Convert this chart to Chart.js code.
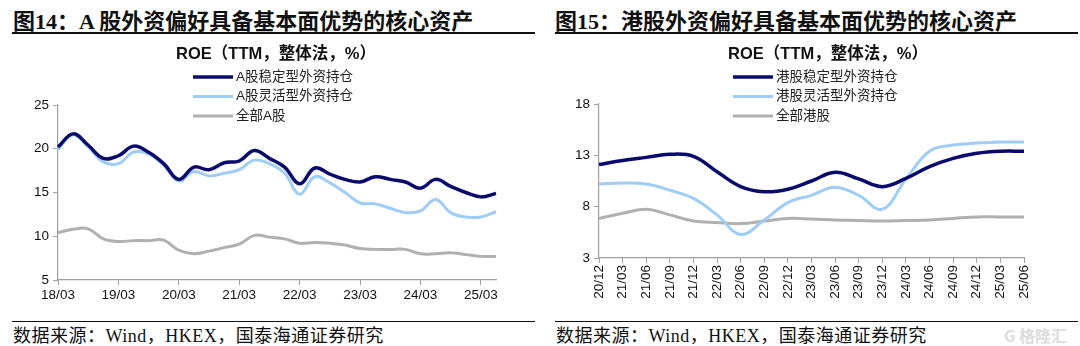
<!DOCTYPE html>
<html>
<head>
<meta charset="utf-8">
<script src="https://cdn.jsdelivr.net/npm/chart.js@4.4.1/dist/chart.umd.min.js"></script>
<style>
  body { margin: 0; width: 1080px; height: 346px; background: #fff; position: relative; overflow: hidden; }
  .fig-title { position: absolute; top: 3px; font: bold 22px "Liberation Serif", "Noto Sans CJK SC", serif; color: #111; white-space: nowrap; }
  .rule { position: absolute; height: 2px; background: #111; }
  .src-rule { position: absolute; height: 1px; background: #111; }
  .source { position: absolute; top: 321px; font: 18px "Liberation Serif", "Noto Sans CJK SC", serif; letter-spacing: 0.5px; color: #111; white-space: nowrap; }
  .wm { position: absolute; left: 1004px; top: 323px; font: bold 16px "Noto Sans CJK SC", sans-serif; color: #dcdcdc; white-space: nowrap; }
  canvas { position: absolute; top: 36px; }
</style>
</head>
<body>
<div class="fig-title" style="left:13px">图14：A 股外资偏好具备基本面优势的核心资产</div>
<div class="rule" style="left:12px; width:523px; top:32px"></div>
<div class="fig-title" style="left:555px">图15：港股外资偏好具备基本面优势的核心资产</div>
<div class="rule" style="left:555px; width:523px; top:32px"></div>

<canvas id="chartA" width="540" height="284" style="left:0"></canvas>
<canvas id="chartHK" width="540" height="284" style="left:540px"></canvas>

<div class="src-rule" style="left:12px; width:523px; top:321px"></div>
<div class="source" style="left:13px">数据来源：Wind，HKEX，国泰海通证券研究</div>
<div class="src-rule" style="left:555px; width:523px; top:321px"></div>
<div class="source" style="left:556px">数据来源：Wind，HKEX，国泰海通证券研究</div>
<div class="wm">G 格隆汇</div>

<script>
// A股: 季度数据 18/03 - 25/06
const labelsA = ['18/03','18/06','18/09','18/12','19/03','19/06','19/09','19/12',
  '20/03','20/06','20/09','20/12','21/03','21/06','21/09','21/12',
  '22/03','22/06','22/09','22/12','23/03','23/06','23/09','23/12',
  '24/03','24/06','24/09','24/12','25/03','25/06'];
const stableA = [20.2, 21.7, 20.4, 18.9, 19.2, 20.3, 19.6, 18.3, 16.5, 17.9, 17.6, 18.4, 18.6, 19.8, 18.9,
  17.9, 16.0, 17.8, 17.1, 16.5, 16.2, 16.8, 16.5, 16.2, 15.5, 16.5, 15.7, 15.0, 14.5, 14.9];
const flexA = [19.9, 21.6, 20.2, 18.5, 18.3, 19.6, 19.4, 18.1, 16.3, 17.4, 16.9, 17.2, 17.6, 18.7, 18.3,
  17.2, 14.8, 16.8, 16.1, 15.0, 13.8, 13.7, 13.2, 12.7, 12.9, 14.2, 12.7, 12.2, 12.2, 12.8];
const allA = [10.4, 10.8, 10.85, 9.7, 9.4, 9.5, 9.5, 9.55, 8.4, 8.0, 8.3, 8.7, 9.1, 10.1, 9.9,
  9.7, 9.2, 9.3, 9.2, 9.0, 8.6, 8.5, 8.5, 8.5, 8.0, 8.0, 8.1, 7.9, 7.7, 7.7];
const namesA = ['A股稳定型外资持仓', 'A股灵活型外资持仓', '全部A股'];
const ticksA = [5, 25, 5]; // min, max, step

// 港股: 季度数据 20/12 - 25/06
const labelsHK = ['20/12','21/03','21/06','21/09','21/12','22/03','22/06','22/09','22/12',
  '23/03','23/06','23/09','23/12','24/03','24/06','24/09','24/12','25/03','25/06'];
const stableHK = [12.1, 12.5, 12.8, 13.1, 12.9, 11.4, 9.95, 9.45, 9.7, 10.5, 11.35, 10.7, 9.95, 10.75, 11.9, 12.7, 13.2, 13.4, 13.4];
const flexHK = [10.2, 10.3, 10.2, 9.6, 8.8, 7.2, 5.3, 6.7, 8.4, 9.1, 9.9, 9.1, 7.75, 10.7, 13.4, 14.0, 14.2, 14.3, 14.3];
const allHK = [6.85, 7.35, 7.75, 7.2, 6.6, 6.45, 6.35, 6.6, 6.85, 6.8, 6.7, 6.65, 6.6, 6.65, 6.7, 6.85, 7.0, 7.0, 7.0];
const namesHK = ['港股稳定型外资持仓', '港股灵活型外资持仓', '全部港股'];
const ticksHK = [3, 18, 5];

const chartTitle = 'ROE（TTM，整体法，%）';
const colors = ['#0a0a6e', '#9fcdf7', '#b0b0b0'];
const widths = [3.5, 3, 3];

// 标题和竖排图例直接画在画布上
const header = {
  id: 'header',
  afterDraw(chart, args, opts) {
    const ctx = chart.ctx;
    ctx.save();
    ctx.fillStyle = '#111';
    ctx.font = 'bold 16.5px "Liberation Sans", "Noto Sans CJK SC", sans-serif';
    ctx.textAlign = 'center';
    ctx.textBaseline = 'middle';
    ctx.fillText(opts.text, opts.titleX, 18);
    ctx.textAlign = 'left';
    ctx.font = '13.5px "Liberation Sans", "Noto Sans CJK SC", sans-serif';
    chart.data.datasets.forEach((ds, i) => {
      const y = 41 + i * 19.5;
      ctx.strokeStyle = ds.borderColor;
      ctx.lineWidth = ds.borderWidth;
      ctx.beginPath();
      ctx.moveTo(opts.legendX, y);
      ctx.lineTo(opts.legendX + 40, y);
      ctx.stroke();
      ctx.fillStyle = '#222';
      ctx.fillText(ds.label, opts.legendX + 43, y);
    });
    ctx.restore();
  }
};

function makeChart(id, labels, series, names, yt, cfg) {
  return new Chart(document.getElementById(id), {
    type: 'line',
    data: {
      labels: labels,
      datasets: series.map((d, i) => ({
        label: names[i],
        data: d,
        borderColor: colors[i],
        borderWidth: widths[i],
        pointRadius: 0,
        tension: 0.4,
        fill: false,
        order: i === 2 ? 3 : (i === 1 ? 2 : 1)
      }))
    },
    plugins: [header],
    options: {
      responsive: false,
      animation: false,
      devicePixelRatio: 1,
      layout: { padding: cfg.padding },
      plugins: {
        legend: { display: false },
        title: { display: false },
        tooltip: { enabled: false },
        header: { text: chartTitle, titleX: cfg.titleX, legendX: 193 }
      },
      scales: {
        x: {
          offset: false,
          afterFit: s => { s.height = cfg.xHeight; },
          grid: { drawOnChartArea: false, drawTicks: true, tickLength: 5, color: '#a0a0a0' },
          border: { color: '#a0a0a0', width: 1.2 },
          ticks: {
            autoSkip: false,
            maxRotation: cfg.rotate, minRotation: cfg.rotate,
            padding: 2,
            color: '#111',
            font: { family: '"Liberation Sans", Arial, sans-serif', size: 13.5 },
            callback: cfg.xTick
          }
        },
        y: {
          min: yt[0], max: yt[1],
          afterFit: s => { s.width = 45; },
          grid: { drawOnChartArea: false, drawTicks: true, tickLength: 5, color: '#a0a0a0' },
          border: { color: '#a0a0a0', width: 1.2 },
          ticks: {
            stepSize: yt[2],
            padding: 4,
            color: '#111',
            font: { family: '"Liberation Sans", Arial, sans-serif', size: 13.5 }
          }
        }
      }
    }
  });
}

makeChart('chartA', labelsA, [stableA, flexA, allA], namesA, ticksA, {
  padding: { left: 13, right: 44, top: 69, bottom: 15 },
  titleX: 276,
  xHeight: 25,
  rotate: 0,
  xTick: function (v, i) { return i % 4 === 0 ? this.getLabelForValue(v) : null; }
});

makeChart('chartHK', labelsHK, [stableHK, flexHK, allHK], namesHK, ticksHK, {
  padding: { left: 14, right: 56, top: 68, bottom: 17 },
  titleX: 288,
  xHeight: 45,
  rotate: 90,
  xTick: function (v) { return this.getLabelForValue(v); }
});
</script>
</body>
</html>
